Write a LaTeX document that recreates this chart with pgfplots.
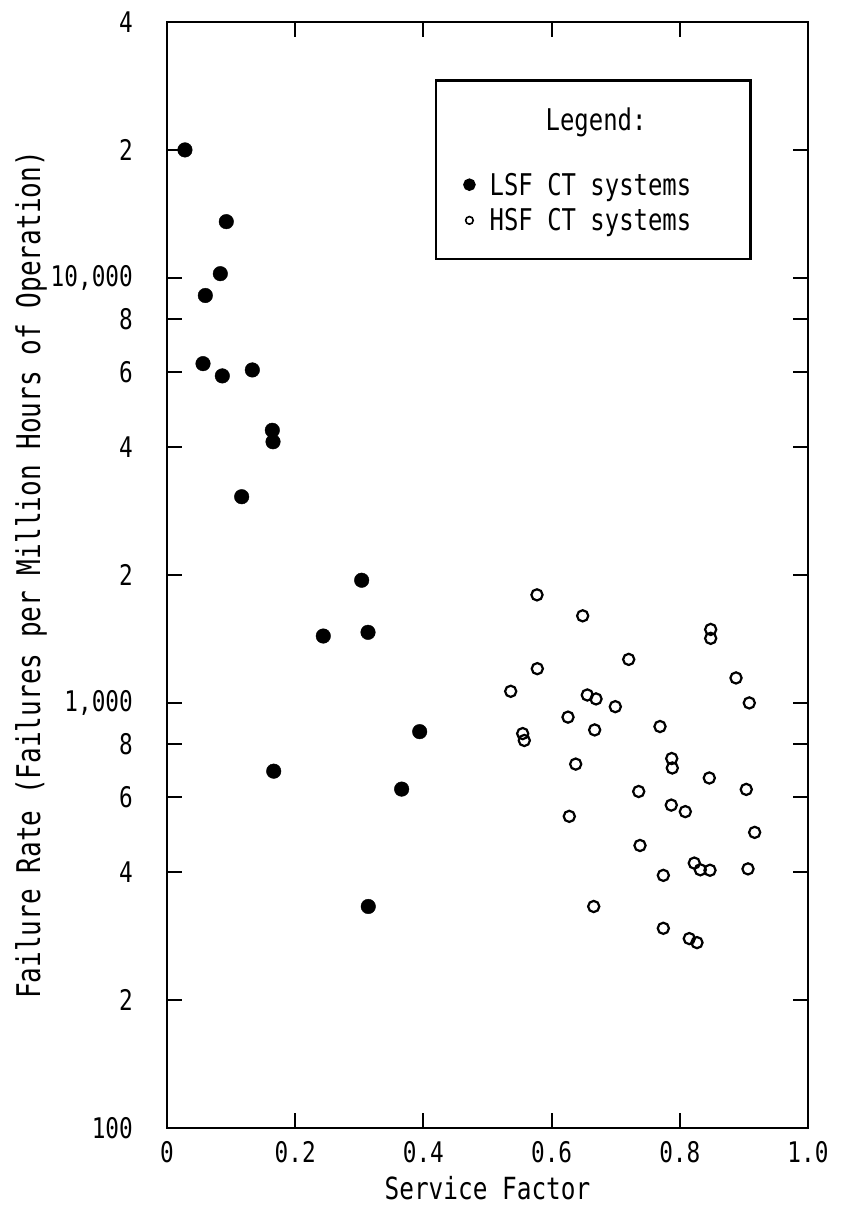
\documentclass[border=0pt]{standalone}
\usepackage{fontspec}
\setmainfont{DejaVu Sans Mono}[FakeStretch=0.8]
\usepackage{pgfplots}
\pgfplotsset{compat=1.18}
\newcommand{\legfont}{\fontsize{29.9}{34}\selectfont}

\pgfplotstableread{
x y
0.028 20000
0.0925 13560
0.0832 10230
0.0598 9090
0.0562 6284
0.0863 5880
0.1331 6073
0.1643 4380
0.1654 4115
0.1165 3056
0.3037 1944
0.2438 1437
0.3136 1466
0.3942 856
0.1665 691
0.3661 627
0.3140 332
}\lsf

\pgfplotstableread{
x y
0.5772 1796
0.6485 1603
0.7203 1266
0.5777 1204
0.5362 1065
0.6557 1044
0.6693 1022
0.6994 980
0.6256 926
0.6672 864
0.5549 847
0.5574 816
0.8482 1489
0.8482 1419
0.8877 1145
0.9084 1000
0.7691 880
0.6376 718
0.7359 619
0.6276 541
0.7379 462
0.6657 332
0.7874 740
0.7883 703
0.8460 666
0.9037 626
0.7867 575
0.8086 555
0.9168 496
0.8226 420
0.8320 405
0.8471 404
0.9064 407
0.7743 393
0.7743 295
0.8148 279
0.8268 273
}\hsf

\begin{document}
\begin{tikzpicture}
\path[use as bounding box] (-167pt,-83pt) rectangle (680pt,1128pt);
\begin{axis}[
  at={(0pt,0pt)}, anchor=south west,
  scale only axis, width=641pt, height=1106pt,
  xmin=0, xmax=1, ymode=log, ymin=100, ymax=40000,
  axis line style={line width=2pt},
  tick align=inside, major tick length=15pt,
  every tick/.style={line width=2pt, black},
  yminorticks=false, xminorticks=false,
  xtick={0,0.2,0.4,0.6,0.8,1.0},
  xticklabels={0,0.2,0.4,0.6,0.8,1.0},
  ytick={100,200,400,600,800,1000,2000,4000,6000,8000,10000,20000,40000},
  yticklabels={100,2,4,6,8,{1,000},2,4,6,8,{10,000},2,4},
  tick label style={font=\fontsize{28.4}{32}\selectfont},
  yticklabel style={anchor=east, inner sep=0pt, xshift=-34pt},
  xticklabel style={anchor=north, inner sep=0pt, yshift=-13pt},
  xlabel={Service Factor},
  ylabel={Failure Rate (Failures per Million Hours of Operation)},
  xlabel style={font=\fontsize{30.5}{34}\selectfont, at={(axis description cs:0.5,0)}, anchor=center, yshift=-60pt},
  ylabel style={font=\fontsize{32.6}{36}\selectfont, at={(axis description cs:-0.212,0.5)}, anchor=center},
  legend style={at={(axis description cs:0.418,0.948)}, anchor=north west,
    draw=black, line width=2.5pt, font=\legfont,
    inner xsep=27pt, inner ysep=25pt, row sep=8pt},
  legend cell align=left,
]
\addlegendimage{empty legend}
\addlegendentry{\legfont\hspace*{68pt}Legend:}
\addlegendimage{empty legend}
\addlegendentry{\fontsize{18}{22}\selectfont\strut}
\addplot[only marks, mark=*, mark size=7.3pt, black,
  legend image code/.code={\fill[black] (0pt,0pt) circle (5pt);}]
  table[x=x,y=y] {\lsf};
\addlegendentry{\legfont\hspace*{12pt}LSF CT systems\hspace*{30pt}}
\addplot[only marks, mark=o, mark size=5.6pt, black, mark options={line width=2.2pt},
  legend image code/.code={\draw[line width=1.6pt] (0pt,0pt) circle (3.8pt);}]
  table[x=x,y=y] {\hsf};
\addlegendentry{\legfont\hspace*{12pt}HSF CT systems}
\end{axis}
\end{tikzpicture}
\end{document}
